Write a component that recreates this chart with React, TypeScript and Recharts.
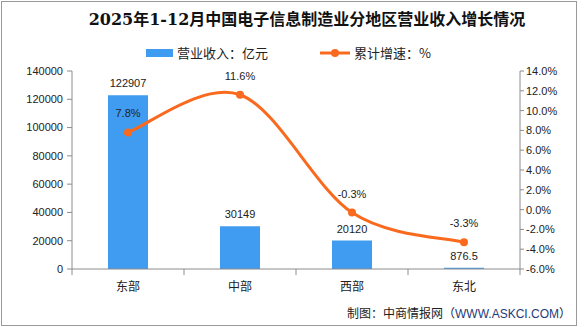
import { ComposedChart, Bar, Line, XAxis, YAxis, LabelList } from 'recharts'

const regions = ['东部', '中部', '西部', '东北']
const revenue = [122907, 30149, 20120, 876.5]
const growth = [7.8, 11.6, -0.3, -3.3]
const leftTicks = [0, 20000, 40000, 60000, 80000, 100000, 120000, 140000]
const rightTicks = [-6, -4, -2, 0, 2, 4, 6, 8, 10, 12, 14]

const data = regions.map((name, i) => ({ name, revenue: revenue[i], growth: growth[i] }))

const W = 585
const H = 327
const PLOT_LEFT = 72
const PLOT_RIGHT = 520
const STEP = (PLOT_RIGHT - PLOT_LEFT) / regions.length
const BLUE = '#3F9CF0'
const ORANGE = '#FA6A1E'
const AXIS = '#8c8c8c'
const NUM_FONT = '"Liberation Sans", Arial, sans-serif'
const CJK_FONT = '"Noto Sans CJK SC", sans-serif'

// excel-like smoothing (catmull-rom as bezier)
function smoothCurve(context: any) {
  let pts: number[][] = []
  return {
    areaStart() {},
    areaEnd() {},
    lineStart() {
      pts = []
    },
    point(x: number, y: number) {
      pts.push([+x, +y])
    },
    lineEnd() {
      if (!pts.length) return
      context.moveTo(pts[0][0], pts[0][1])
      for (let i = 0; i < pts.length - 1; i++) {
        const p0 = pts[Math.max(i - 1, 0)]
        const p1 = pts[i]
        const p2 = pts[i + 1]
        const p3 = pts[Math.min(i + 2, pts.length - 1)]
        context.bezierCurveTo(
          p1[0] + (p2[0] - p0[0]) / 6,
          p1[1] + (p2[1] - p0[1]) / 6,
          p2[0] - (p3[0] - p1[0]) / 6,
          p2[1] - (p3[1] - p1[1]) / 6,
          p2[0],
          p2[1]
        )
      }
    },
  }
}

function CategoryTick(props: any) {
  const { x, y, payload, index } = props
  const axisY = y - 10
  return (
    <g>
      <line x1={x - STEP / 2} x2={x - STEP / 2} y1={axisY} y2={axisY + 6} stroke={AXIS} />
      {index === regions.length - 1 && (
        <line x1={x + STEP / 2} x2={x + STEP / 2} y1={axisY} y2={axisY + 6} stroke={AXIS} />
      )}
      <text x={x} y={axisY + 18} dy="0.35em" textAnchor="middle" fontSize={12} fill="#222" fontFamily={CJK_FONT}>
        {payload.value}
      </text>
    </g>
  )
}

export default function App() {
  return (
    <div style={{ position: 'absolute', left: 0, top: 0, width: W, height: H, background: '#fff' }}>
      <div
        style={{
          position: 'absolute',
          left: 1,
          top: 1,
          width: 574,
          height: 323,
          border: '1px solid #9a9a9a',
        }}
      />
      <div
        style={{
          position: 'absolute',
          left: 0,
          top: 10,
          width: 614,
          textAlign: 'center',
          fontSize: 16,
          fontWeight: 'bold',
          fontFamily: '"DejaVu Serif", "Noto Sans CJK SC", serif',
          color: '#111',
          lineHeight: '20px',
        }}
      >
        2025年1-12月中国电子信息制造业分地区营业收入增长情况
      </div>
      <div
        style={{
          position: 'absolute',
          top: 44,
          left: 146,
          display: 'flex',
          alignItems: 'center',
          fontFamily: CJK_FONT,
          fontSize: 13,
          color: '#222',
          lineHeight: '18px',
        }}
      >
        <span style={{ display: 'inline-block', width: 27, height: 8, background: BLUE, marginRight: 4 }} />
        <span>营业收入：亿元</span>
        <svg width={30} height={10} style={{ marginLeft: 52, marginRight: 4 }}>
          <line x1={0} x2={30} y1={5} y2={5} stroke={ORANGE} strokeWidth={3} />
          <circle cx={15} cy={5} r={4} fill={ORANGE} />
        </svg>
        <span>累计增速：%</span>
      </div>
      <div
        style={{
          position: 'absolute',
          right: 14,
          top: 304,
          fontFamily: CJK_FONT,
          fontSize: 12,
          color: '#222',
          lineHeight: '18px',
        }}
      >
        制图：中商情报网（<span style={{ color: '#1F3A7A', fontFamily: NUM_FONT }}>WWW.ASKCI.COM</span>）
      </div>
      <ComposedChart
        width={W}
        height={H}
        data={data}
        margin={{ top: 71, right: 0, bottom: 28, left: 0 }}
        style={{ position: 'absolute', left: 0, top: 0 }}
      >
        <XAxis
          dataKey="name"
          stroke={AXIS}
          tickLine={false}
          tickSize={6}
          tickMargin={4}
          height={30}
          interval={0}
          tick={<CategoryTick />}
        />
        <YAxis
          yAxisId="left"
          domain={[0, 140000]}
          ticks={leftTicks}
          interval={0}
          width={PLOT_LEFT}
          stroke={AXIS}
          tickSize={5}
          tickMargin={4}
          tick={{ fill: '#222', fontSize: 11, fontFamily: NUM_FONT }}
        />
        <YAxis
          yAxisId="right"
          orientation="right"
          domain={[-6, 14]}
          ticks={rightTicks}
          interval={0}
          width={W - PLOT_RIGHT}
          stroke={AXIS}
          tickSize={4}
          tickMargin={2}
          tickFormatter={(v: number) => v.toFixed(1) + '%'}
          tick={{ fill: '#222', fontSize: 11, fontFamily: NUM_FONT }}
        />
        <Bar yAxisId="left" dataKey="revenue" fill={BLUE} barSize={40} isAnimationActive={false}>
          <LabelList
            dataKey="revenue"
            position="top"
            offset={8}
            fill="#222"
            fontSize={11}
            fontFamily={NUM_FONT}
          />
        </Bar>
        <Line
          yAxisId="right"
          dataKey="growth"
          type={smoothCurve as any}
          stroke={ORANGE}
          strokeWidth={3}
          dot={{ r: 4, fill: ORANGE, stroke: ORANGE, strokeWidth: 0 }}
          activeDot={false}
          isAnimationActive={false}
        >
          <LabelList
            dataKey="growth"
            position="top"
            offset={15}
            fill="#222"
            fontSize={11}
            fontFamily={NUM_FONT}
            formatter={(v: any) => Number(v).toFixed(1) + '%'}
          />
        </Line>
      </ComposedChart>
    </div>
  )
}
